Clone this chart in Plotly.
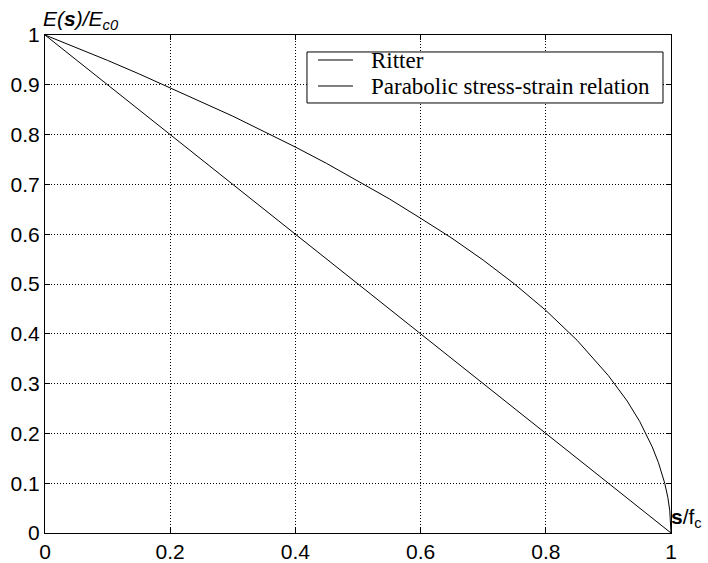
import plotly.graph_objects as go

# Data
ritter_x = [0.0, 0.2, 0.4, 0.6, 0.8, 1.0]
ritter_y = [1.0, 0.8, 0.6, 0.4, 0.2, 0.0]

para_x = [0.0, 0.05, 0.1, 0.15, 0.2, 0.25, 0.3, 0.35, 0.4, 0.45, 0.5, 0.55, 0.6, 0.65,
          0.7, 0.75, 0.8, 0.85, 0.9, 0.93, 0.95, 0.97, 0.98, 0.99, 0.995, 0.998, 1.0]
para_y = [1.0, 0.975, 0.949, 0.922, 0.894, 0.866, 0.837, 0.806, 0.775, 0.742, 0.707, 0.671,
          0.632, 0.592, 0.548, 0.5, 0.447, 0.387, 0.316, 0.265, 0.224, 0.173, 0.141, 0.1,
          0.071, 0.045, 0.0]

series_names = ["Ritter", "Parabolic stress-strain relation"]

x_ticks = [0, 0.2, 0.4, 0.6, 0.8, 1]
x_labels = ["0", "0.2", "0.4", "0.6", "0.8", "1"]
y_ticks = [0, 0.1, 0.2, 0.3, 0.4, 0.5, 0.6, 0.7, 0.8, 0.9, 1]
y_labels = ["0", "0.1", "0.2", "0.3", "0.4", "0.5", "0.6", "0.7", "0.8", "0.9", "1"]

fig = go.Figure()
fig.add_trace(go.Scatter(x=ritter_x, y=ritter_y, mode="lines", name=series_names[0],
                         line=dict(color="black", width=1)))
fig.add_trace(go.Scatter(x=para_x, y=para_y, mode="lines", name=series_names[1],
                         line=dict(color="black", width=1)))

axis_common = dict(
    showline=True, linecolor="black", linewidth=1, mirror="ticks",
    ticks="inside", ticklen=5, tickcolor="black",
    showgrid=True, gridcolor="black", gridwidth=1, griddash="1px,2px",
    zeroline=False, automargin=False,
    tickfont=dict(family="Liberation Sans, Arial", size=21, color="black"),
)

fig.update_xaxes(range=[0, 1], tickvals=x_ticks, ticktext=x_labels, **axis_common)
fig.update_yaxes(range=[0, 1], tickvals=y_ticks, ticktext=y_labels, **axis_common)

# MATLAB-style compact legend box (drawn in paper coordinates)
shapes = [dict(type="rect", xref="paper", yref="paper", x0=0.4185, x1=0.9872,
               y0=0.8635, y1=0.9659, fillcolor="white", line=dict(color="black", width=1),
               layer="above")]
legend_rows_y = [0.9478, 0.8956]
annotations = []
for name, yy in zip(series_names, legend_rows_y):
    shapes.append(dict(type="line", xref="paper", yref="paper", x0=0.4361, x1=0.4920,
                       y0=yy + 0.002, y1=yy + 0.002, line=dict(color="black", width=1),
                       layer="above"))
    annotations.append(dict(xref="paper", yref="paper", x=0.5176, y=yy, xanchor="left",
                            yanchor="middle", showarrow=False, text=name,
                            font=dict(family="Liberation Serif, Times New Roman", size=23,
                                      color="black")))

annotations += [
    dict(xref="paper", yref="paper", x=0, y=1, xanchor="left", yanchor="bottom",
         yshift=0, xshift=-4, showarrow=False,
         text="<i>E(<b>s</b>)/E<sub>c0</sub></i>",
         font=dict(family="Liberation Sans, Arial", size=21, color="black")),
    dict(xref="paper", yref="paper", x=1, y=0, xanchor="left", yanchor="bottom",
         xshift=-2, yshift=0, showarrow=False,
         text="<b>s</b>/f<sub>c</sub>",
         font=dict(family="Liberation Sans, Arial", size=21, color="black")),
]

fig.update_layout(
    width=708, height=563,
    margin=dict(l=45, r=37, t=35, b=30),
    plot_bgcolor="white", paper_bgcolor="white",
    showlegend=False,
    shapes=shapes,
    annotations=annotations,
)

fig.write_html("out.html")
